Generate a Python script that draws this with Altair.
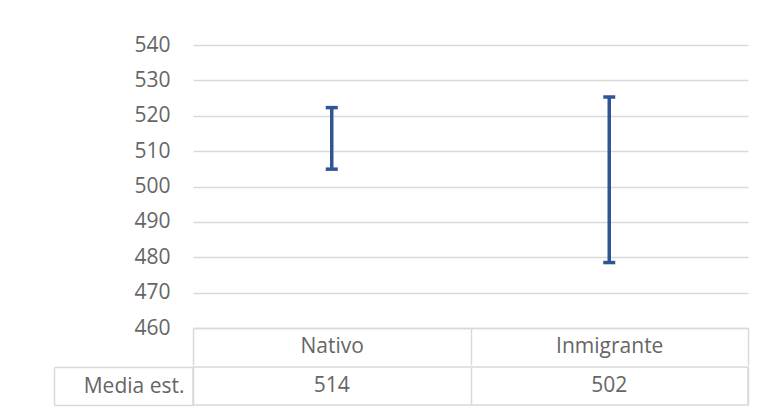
import altair as alt
import pandas as pd

# ---- data ----
categories = ["Nativo", "Inmigrante"]
means = [514, 502]
lower = [504.9, 478.5]
upper = [522.3, 525.3]
row_label = ["Media est.", "Media est."]
y_ticks = [460, 470, 480, 490, 500, 510, 520, 530, 540]

df = pd.DataFrame({"cat": categories, "mean": means, "lo": lower, "hi": upper, "row": row_label})

FONT = "Open Sans"
GRAY = "#666666"
LINE = "#d9d9d9"
BLUE = "#2F5597"
FS = 21

xscale = alt.Scale(type="band", domain=categories, paddingInner=0, paddingOuter=0)
yscale = alt.Scale(domain=[460, 540], nice=False, zero=False)

x_top = alt.X(
    "cat:N", sort=categories, scale=xscale, title=None,
    axis=alt.Axis(orient="bottom", domain=True, domainColor=LINE, domainWidth=1.5,
                  ticks=True, tickBand="extent", tickSize=37, tickColor=LINE, tickWidth=1.5,
                  labelAngle=0, labelPadding=-18.5, labelBaseline="middle",
                  labelFont=FONT, labelFontSize=FS, labelColor=GRAY, grid=False),
)
y_axis = alt.Axis(values=y_ticks, grid=True, gridColor=LINE, gridWidth=1.5, domain=False,
                  ticks=False, labelPadding=23, labelFont=FONT, labelFontSize=FS,
                  labelColor=GRAY)

base = alt.Chart(df)
bars = base.mark_rule(color=BLUE, strokeWidth=3.5).encode(
    x=x_top, y=alt.Y("lo:Q", scale=yscale, title=None, axis=y_axis), y2="hi:Q")
cap_lo = base.mark_tick(color=BLUE, thickness=3.5, size=12, opacity=1).encode(
    x=x_top, y=alt.Y("lo:Q", scale=yscale, title=None, axis=y_axis))
cap_hi = base.mark_tick(color=BLUE, thickness=3.5, size=12, opacity=1).encode(
    x=x_top, y=alt.Y("hi:Q", scale=yscale, title=None, axis=y_axis))

top = alt.layer(bars, cap_lo, cap_hi).properties(
    width=555, height=283, view=alt.ViewBackground(stroke="transparent"))

# ---- data table row ----
rowscale = alt.Scale(type="band", paddingInner=0, paddingOuter=0)
x_bot = alt.X(
    "cat:N", sort=categories, scale=xscale, title=None,
    axis=alt.Axis(orient="bottom", grid=True, gridColor=LINE, gridWidth=1.5, tickBand="extent",
                  domain=False, ticks=False, labels=False),
)
vals = base.mark_text(font=FONT, fontSize=FS, color=GRAY).encode(
    x=x_bot,
    y=alt.Y("row:N", scale=rowscale, title=None,
            axis=alt.Axis(orient="left", domain=False, ticks=True, tickBand="extent",
                          tickSize=139, tickColor=LINE, tickWidth=1.5, labelPadding=-130,
                          labelFont=FONT, labelFontSize=FS, labelColor=GRAY,
                          labelAlign="right", labelBaseline="middle", grid=False)),
    text="mean:Q",
)
edge = base.mark_text(opacity=0).encode(
    x=x_bot,
    y=alt.Y("row:N", scale=rowscale, title=None,
            axis=alt.Axis(orient="left", offset=139, domain=True, domainColor=LINE,
                          domainWidth=1.5, ticks=False, labels=False, grid=False)),
    text="mean:Q",
)
bottom = alt.layer(vals, edge).resolve_axis(y="independent").properties(
    width=555, height=38, view=alt.ViewBackground(stroke=LINE, strokeWidth=1.5))

chart = alt.vconcat(top, bottom, spacing=-17).properties(
    padding={"left": 44, "top": 25, "right": 5, "bottom": 0},
    background="white",
)

chart.save("out.html", embed_options={"renderer": "svg", "actions": False})
